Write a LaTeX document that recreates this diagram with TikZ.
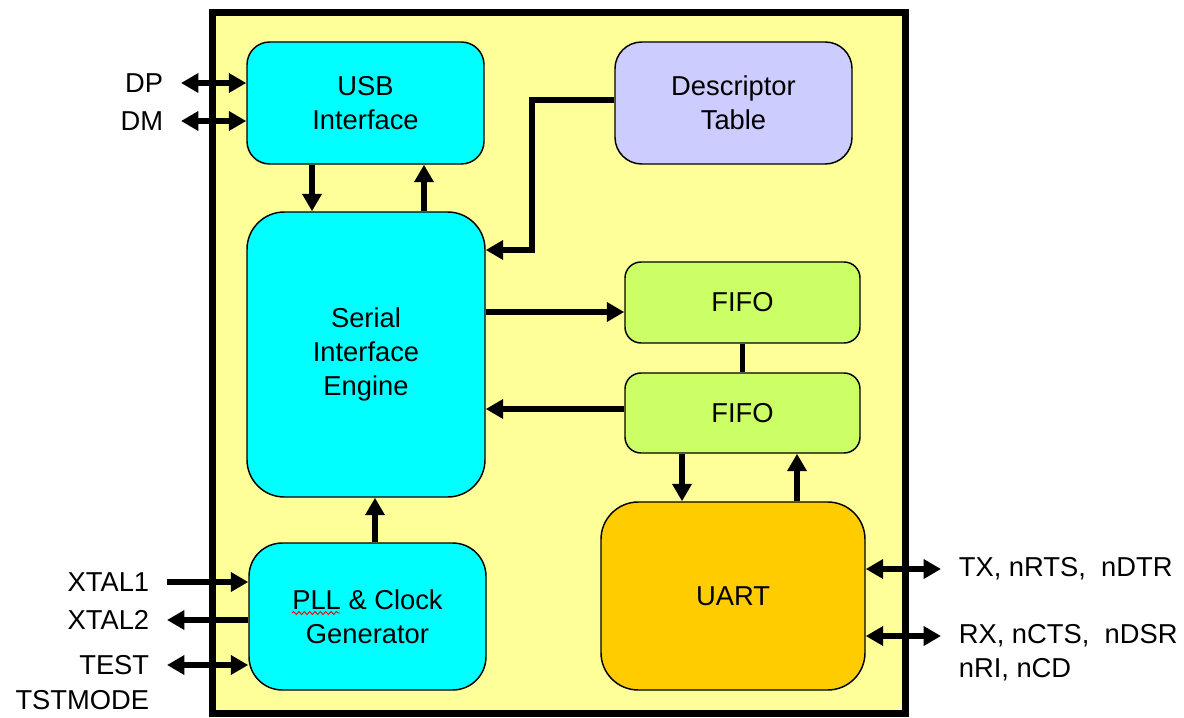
\documentclass[tikz,border=0pt]{standalone}
\usepackage{fontspec}
\setmainfont{Liberation Sans}
\usetikzlibrary{arrows.meta,decorations.pathmorphing}

\definecolor{chipyellow}{HTML}{FFFF99}
\definecolor{usbcyan}{HTML}{00FFFF}
\definecolor{desclav}{HTML}{CCCCFF}
\definecolor{fifogreen}{HTML}{CCFF66}
\definecolor{uartorange}{HTML}{FFCC00}

\tikzset{every picture/.style={line width=0.75pt}}
\tikzset{
  blk/.style={draw=black, line width=1.1pt, align=center, inner sep=0pt, font=\fontsize{20.5}{25.5}\selectfont},
  sig/.style={inner xsep=13pt, inner ysep=0pt, font=\fontsize{20.5}{25.5}\selectfont},
  arr/.style={line width=4.2pt, -{Triangle[length=13pt,width=14pt]}},
  dbl/.style={line width=4.2pt, {Triangle[length=13pt,width=14pt]}-{Triangle[length=13pt,width=14pt]}},
}

\begin{document}
\begin{tikzpicture}[x=0.75pt,y=0.75pt,yscale=-1,xscale=1]
\useasboundingbox (0,0) rectangle (1184,717);

%Chip outline
\draw [line width=5.25pt, fill=chipyellow] (212,13) rectangle (905,713);

%Rounded Rect [blocks]
\node [blk, fill=usbcyan, rounded corners=17pt, minimum width=177.75pt, minimum height=91.5pt] (usb) at (365.5,103) {USB\\Interface};
\node [blk, fill=desclav, rounded corners=20pt, minimum width=177.75pt, minimum height=91.5pt] (desc) at (733.5,103) {Descriptor\\Table};
\node [blk, fill=usbcyan, rounded corners=28pt, minimum width=178.5pt, minimum height=213.75pt] (sie) at (366,354.5) {Serial\\Interface\\Engine};
\node [blk, fill=fifogreen, rounded corners=12pt, minimum width=176.25pt, minimum height=60.75pt] (fifo1) at (742.5,302.5) {FIFO};
\node [blk, fill=fifogreen, rounded corners=12pt, minimum width=176.25pt, minimum height=60pt] (fifo2) at (742.5,413) {FIFO};
\node [blk, fill=uartorange, rounded corners=28pt, minimum width=198pt, minimum height=141pt] (uart) at (733,596) {UART};
\node [blk, fill=usbcyan, rounded corners=25pt, minimum width=177.75pt, minimum height=110.25pt] (pll) at (367.5,616.5) {PLL \& Clock\\Generator};

%spell-check mark under PLL
\draw [red, line width=0.7pt, decorate, decoration={snake, amplitude=1.1pt, segment length=4pt}] (292,613) -- (340,613);

% Text Node [pins]
\node [sig, anchor=east] (dp) at (181,83) {DP};
\node [sig, anchor=east] (dm) at (181,121) {DM};
\node [sig, anchor=east] (xtal1) at (167,582) {XTAL1};
\node [sig, anchor=east] (xtal2) at (167,620) {XTAL2};
\node [sig, anchor=east] (test) at (167,665) {TEST};
\node [sig, anchor=east] (tstmode) at (167,700) {TSTMODE};
\node [sig, anchor=west] (tx) at (941,569) {TX, nRTS,\ \ nDTR};
\node [sig, anchor=west] (rx) at (941,636) {RX, nCTS,\ \ nDSR};
\node [sig, anchor=west] (nri) at (941,670) {nRI, nCD};

%Straight Lines [pins]
\draw [dbl] (dp.east) -- (usb.west |- dp.east);
\draw [dbl] (dm.east) -- (usb.west |- dm.east);
\draw [arr] (xtal1.east) -- (pll.west |- xtal1.east);
\draw [arr] (pll.west |- xtal2.east) -- (xtal2.east);
\draw [dbl] (test.east) -- (pll.west |- test.east);
\draw [dbl] (uart.east |- tx.west) -- (tx.west);
\draw [dbl] (uart.east |- rx.west) -- (rx.west);

%Straight Lines [internal]
\draw [arr] (usb.south -| 312,0) -- (sie.north -| 312,0);
\draw [arr] (sie.north -| 424,0) -- (usb.south -| 424,0);
\draw [arr] (pll.north -| 375,0) -- (sie.south -| 375,0);
\draw [arr] (desc.west |- 0,100) -| (532,250) -- (sie.east |- 0,250);
\draw [arr] (sie.east |- 0,312) -- (fifo1.west |- 0,312);
\draw [arr] (fifo2.west |- 0,409) -- (sie.east |- 0,409);
\draw [line width=4.2pt] (fifo1.south) -- (fifo2.north);
\draw [arr] (fifo2.south -| 682,0) -- (uart.north -| 682,0);
\draw [arr] (uart.north -| 797,0) -- (fifo2.south -| 797,0);
\end{tikzpicture}
\end{document}
